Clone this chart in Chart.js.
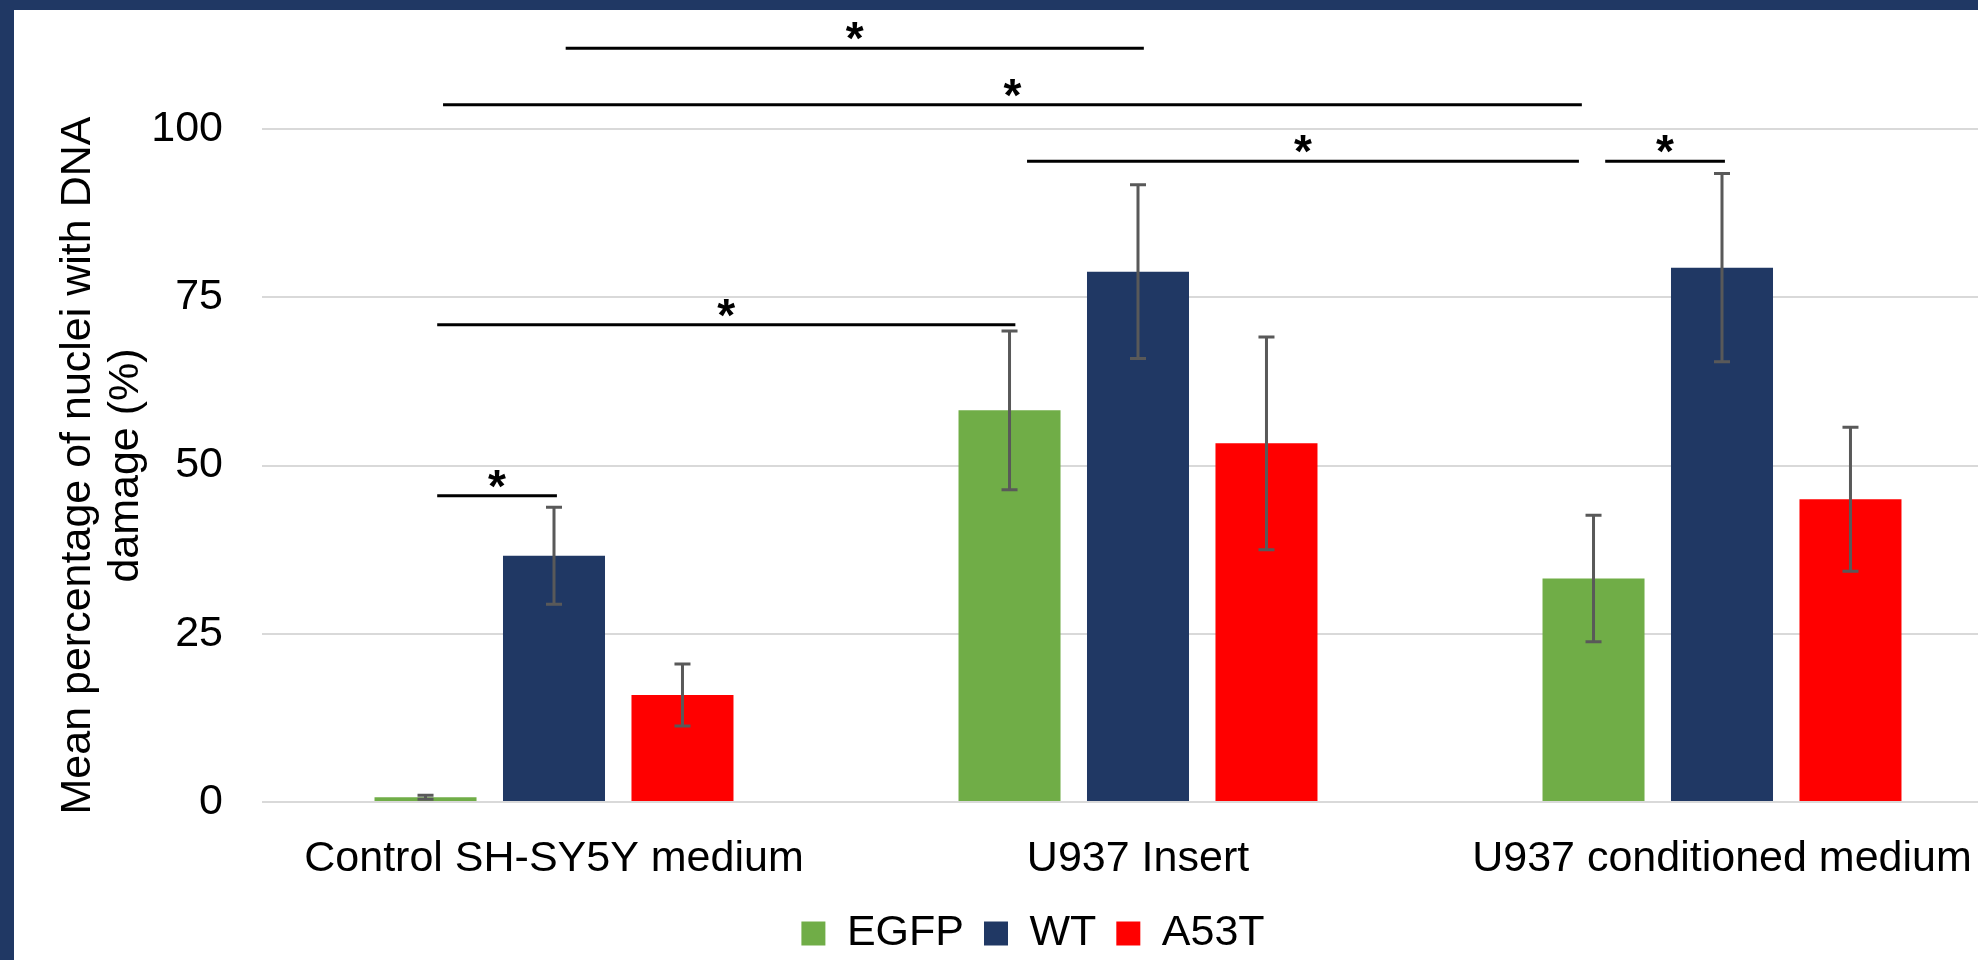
<!DOCTYPE html>
<html>
<head>
<meta charset="utf-8">
<title>DNA damage</title>
<script src="https://cdn.jsdelivr.net/npm/chart.js@4.4.0/dist/chart.umd.min.js"></script>
<style>
  html, body { margin: 0; padding: 0; background: #fff; overflow: hidden; }
  #wrap { position: relative; width: 1978px; height: 960px; overflow: hidden; }
  #chart { position: absolute; left: 0; top: 0; }
  .frame { position: absolute; background: #203864; }
</style>
</head>
<body>
<div id="wrap">
  <canvas id="chart" width="2066" height="965"></canvas>
  <div class="frame" style="left:0;top:0;width:1978px;height:10px"></div>
  <div class="frame" style="left:0;top:0;width:14px;height:960px"></div>
</div>
<script>
var categories = ["Control SH-SY5Y medium", "U937 Insert", "U937 conditioned medium"];
var egfpValues = [0.7, 58.2, 33.2];
var wtValues = [36.6, 78.8, 79.4];
var a53tValues = [15.9, 53.3, 45.0];
var egfpErrors = [0.3, 11.8, 9.4];
var wtErrors = [7.2, 12.9, 14.0];
var a53tErrors = [4.6, 15.8, 10.7];
var yTicks = [0, 25, 50, 75, 100];

// significance brackets: from/to in category units, level in %
var sigFrom = [0.02, -0.19, 0.81, 1.80, -0.20, -0.20];
var sigTo = [1.01, 1.76, 1.755, 2.005, 0.005, 0.79];
var sigLevel = [112.0, 103.6, 95.2, 95.2, 45.5, 70.9];
var sigLabel = ["*", "*", "*", "*", "*", "*"];

var fontFamily = "'Liberation Sans', Arial, sans-serif";

// Draw the error bars on top of each bar
var errorBars = {
  id: 'errorBars',
  afterDatasetsDraw: function (chart) {
    var ctx = chart.ctx;
    var y = chart.scales.y;
    ctx.save();
    ctx.strokeStyle = '#595959';
    ctx.lineWidth = 3;
    chart.data.datasets.forEach(function (ds, d) {
      chart.getDatasetMeta(d).data.forEach(function (bar, i) {
        var hi = y.getPixelForValue(ds.data[i] + ds.errors[i]);
        var lo = y.getPixelForValue(ds.data[i] - ds.errors[i]);
        ctx.beginPath();
        ctx.moveTo(bar.x, hi);
        ctx.lineTo(bar.x, lo);
        ctx.moveTo(bar.x - 8, hi);
        ctx.lineTo(bar.x + 8, hi);
        ctx.moveTo(bar.x - 8, lo);
        ctx.lineTo(bar.x + 8, lo);
        ctx.stroke();
      });
    });
    ctx.restore();
  }
};

// Significance lines with stars
var sigBrackets = {
  id: 'sigBrackets',
  afterDraw: function (chart) {
    var ctx = chart.ctx;
    var x = chart.scales.x;
    var y = chart.scales.y;
    ctx.save();
    ctx.strokeStyle = '#000';
    ctx.lineWidth = 3;
    ctx.fillStyle = '#000';
    ctx.font = 'bold 46px ' + fontFamily;
    ctx.textAlign = 'center';
    ctx.textBaseline = 'alphabetic';
    sigLevel.forEach(function (level, i) {
      var py = y.getPixelForValue(level);
      var x1 = x.getPixelForValue(sigFrom[i]);
      var x2 = x.getPixelForValue(sigTo[i]);
      ctx.beginPath();
      ctx.moveTo(x1, py);
      ctx.lineTo(x2, py);
      ctx.stroke();
      ctx.fillText(sigLabel[i], (x1 + x2) / 2, py + 6);
    });
    ctx.restore();
  }
};

new Chart(document.getElementById('chart'), {
  type: 'bar',
  data: {
    labels: categories,
    datasets: [{
      label: 'EGFP',
      data: egfpValues,
      errors: egfpErrors,
      backgroundColor: '#70AD47'
    }, {
      label: 'WT',
      data: wtValues,
      errors: wtErrors,
      backgroundColor: '#203864'
    }, {
      label: 'A53T',
      data: a53tValues,
      errors: a53tErrors,
      backgroundColor: '#FF0000'
    }]
  },
  options: {
    responsive: false,
    animation: false,
    events: [],
    layout: { padding: { top: 129, right: 52, bottom: 0, left: 52 } },
    datasets: { bar: { categoryPercentage: 0.66, barPercentage: 0.794 } },
    plugins: {
      legend: {
        position: 'bottom',
        labels: {
          font: { size: 43, family: fontFamily },
          color: '#000',
          boxWidth: 24,
          boxHeight: 24,
          padding: 20
        }
      },
      tooltip: { enabled: false }
    },
    scales: {
      x: {
        grid: { display: false },
        border: { display: false },
        ticks: { font: { size: 43, family: fontFamily }, color: '#000', padding: 23, maxRotation: 0 },
        afterFit: function (s) { s.height = 90; }
      },
      y: {
        min: 0,
        max: 100,
        afterBuildTicks: function (s) {
          s.ticks = yTicks.map(function (v) { return { value: v }; });
        },
        ticks: { font: { size: 43, family: fontFamily }, color: '#000', padding: 39 },
        grid: { color: '#D9D9D9', lineWidth: 2, drawTicks: false },
        border: { display: false },
        title: {
          display: true,
          text: ['Mean percentage of nuclei with DNA', 'damage (%)'],
          font: { size: 43, family: fontFamily, lineHeight: 1.116 },
          color: '#000',
          padding: { top: 2, bottom: 0 }
        },
        afterFit: function (s) { s.width = 210; }
      }
    }
  },
  plugins: [errorBars, sigBrackets]
});
</script>
</body>
</html>
